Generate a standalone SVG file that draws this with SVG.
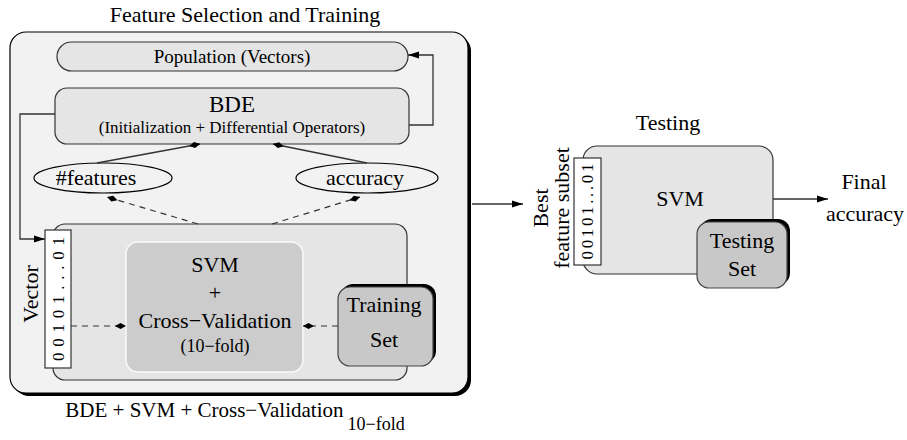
<svg xmlns="http://www.w3.org/2000/svg" width="907" height="440" viewBox="0 0 907 440">
<defs>
<marker id="tri" markerUnits="userSpaceOnUse" markerWidth="12" markerHeight="10" refX="11" refY="5" orient="auto" overflow="visible">
<path d="M0,1.5 L11,5 L0,8.5 Z" fill="#000"/>
</marker>
<marker id="dia" markerUnits="userSpaceOnUse" markerWidth="12" markerHeight="8" refX="11" refY="4" orient="auto" overflow="visible">
<path d="M0,4 L5.5,1 L11,4 L5.5,7 Z" fill="#000"/>
</marker>
</defs>
<style>
text{font-family:"Liberation Serif","Times New Roman",serif;fill:#000}
.t22{font-size:22px}
.box{fill:#e5e5e5;stroke:#333;stroke-width:1.2}
.set{fill:#c8c8c8;stroke:#444;stroke-width:1.2}
.shadow{fill:#000}
.vec{fill:#fff;stroke:#333;stroke-width:1.2}
.ln{fill:none;stroke:#333;stroke-width:1.3}
.dash{fill:none;stroke:#333;stroke-width:1.2;stroke-dasharray:6,5}
.digits{font-size:17px}
</style>

<text class="t22" x="245" y="22" text-anchor="middle">Feature Selection and Training</text>

<g id="outer">
<rect class="shadow" x="13" y="35" width="458" height="361" rx="16"/>
<rect x="10" y="32" width="458" height="361" rx="16" fill="#f2f2f2" stroke="#000" stroke-width="1.2"/>
</g>

<g id="population">
<rect class="box" x="57" y="42" width="351" height="29" rx="14.5"/>
<text x="232" y="63" font-size="19" text-anchor="middle">Population (Vectors)</text>
</g>

<g id="bde">
<rect class="box" x="55" y="88" width="354" height="56" rx="12"/>
<text x="232" y="112" font-size="23" text-anchor="middle">BDE</text>
<text x="232" y="133" font-size="17" text-anchor="middle">(Initialization + Differential Operators)</text>
</g>

<g id="features">
<ellipse cx="103" cy="178" rx="69" ry="15" fill="none" stroke="#000" stroke-width="1.2"/>
<text class="t22" x="96" y="185" text-anchor="middle">#features</text>
</g>

<g id="accuracy">
<ellipse cx="367" cy="178" rx="71" ry="15" fill="none" stroke="#000" stroke-width="1.2"/>
<text class="t22" x="365" y="185" text-anchor="middle">accuracy</text>
</g>

<g id="evaluation">
<rect class="box" x="53" y="224" width="354" height="156" rx="12"/>
</g>

<g id="svm-cv">
<rect x="126" y="242" width="177" height="130" rx="12" fill="#cccccc" stroke="#fafafa" stroke-width="1.5"/>
<text class="t22" x="215" y="272" text-anchor="middle">SVM</text>
<text class="t22" x="215" y="300" text-anchor="middle">+</text>
<text class="t22" x="215" y="328" text-anchor="middle">Cross−Validation</text>
<text x="215" y="352" font-size="18" text-anchor="middle">(10−fold)</text>
</g>

<g id="training-set">
<rect class="shadow" x="341" y="284" width="95" height="79" rx="12"/>
<rect class="set" x="338" y="287" width="95" height="79" rx="12"/>
<text class="t22" x="384" y="312" text-anchor="middle">Training</text>
<text class="t22" x="384" y="347" text-anchor="middle">Set</text>
</g>

<g id="vector">
<rect class="vec" x="45" y="230" width="26" height="138"/>
<text class="digits" transform="translate(64,299) rotate(-90)" text-anchor="middle" textLength="124" lengthAdjust="spacing">00101...01</text>
<text class="t22" transform="translate(38,294) rotate(-90)" text-anchor="middle">Vector</text>
</g>

<text class="t22" x="668" y="130" text-anchor="middle">Testing</text>

<g id="testing">
<rect class="box" x="583" y="146" width="190" height="128" rx="14"/>
<text class="t22" x="680" y="206" text-anchor="middle">SVM</text>
</g>

<g id="best-vector">
<rect class="vec" x="574" y="158" width="27" height="107"/>
<text class="digits" transform="translate(593,211.5) rotate(-90)" text-anchor="middle" textLength="96" lengthAdjust="spacing">00101...01</text>
<text class="t22" transform="translate(548,208) rotate(-90)" text-anchor="middle">Best</text>
<text class="t22" transform="translate(569,208) rotate(-90)" text-anchor="middle">feature subset</text>
</g>

<g id="testing-set">
<rect class="shadow" x="700" y="219" width="90" height="66" rx="12"/>
<rect class="set" x="697" y="222" width="90" height="66" rx="12"/>
<text class="t22" x="742" y="248" text-anchor="middle">Testing</text>
<text class="t22" x="742" y="276" text-anchor="middle">Set</text>
</g>

<g id="final">
<text class="t22" x="864" y="189" text-anchor="middle">Final</text>
<text class="t22" x="865" y="221" text-anchor="middle">accuracy</text>
</g>

<g id="connectors">
<polyline class="ln" points="55,114 20,114 20,239 45,239" marker-end="url(#tri)"/>
<polyline class="ln" points="409,125 433,125 433,55 408,55" marker-end="url(#tri)"/>
<line class="ln" x1="97" y1="163" x2="200" y2="144" marker-end="url(#dia)"/>
<line class="ln" x1="367" y1="163" x2="273" y2="144" marker-end="url(#dia)"/>
<line class="dash" x1="198" y1="224" x2="107" y2="197" marker-end="url(#dia)"/>
<line class="dash" x1="272" y1="224" x2="360" y2="197" marker-end="url(#dia)"/>
<line class="dash" x1="71" y1="326" x2="126" y2="326" marker-end="url(#dia)"/>
<line class="dash" x1="338" y1="326" x2="303" y2="326" marker-end="url(#dia)"/>
<line class="ln" x1="472" y1="204" x2="523" y2="204" marker-end="url(#tri)"/>
<line class="ln" x1="773" y1="199" x2="828" y2="199" marker-end="url(#tri)"/>
</g>

<text x="235" y="417" font-size="21" text-anchor="middle">BDE + SVM + Cross−Validation<tspan dx="4" dy="13" font-size="18">10−fold</tspan></text>
</svg>
